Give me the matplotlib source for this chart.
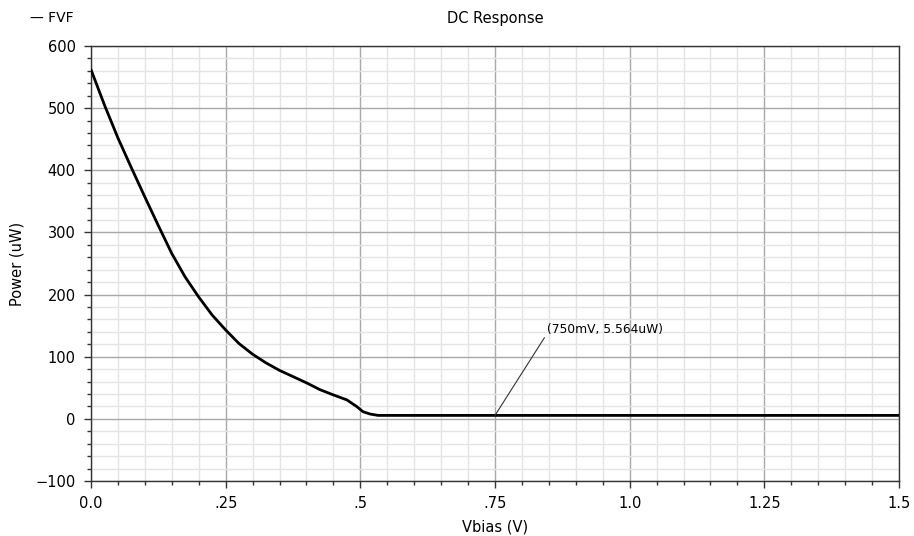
import matplotlib
matplotlib.use("Agg")
import matplotlib.pyplot as plt
from matplotlib.ticker import MultipleLocator

# Data
vbias = [0.0, 0.025, 0.05, 0.075, 0.1, 0.125, 0.15, 0.175, 0.2, 0.225, 0.25,
         0.275, 0.3, 0.325, 0.35, 0.375, 0.4, 0.425, 0.45, 0.475, 0.493,
         0.505, 0.518, 0.533, 0.75, 1.5]
power = [562, 505, 452, 404, 357, 311, 266, 228, 196, 167, 143,
         121, 104, 90, 78, 68, 58, 47, 38.5, 30.5, 20,
         11.5, 7.8, 5.564, 5.564, 5.564]
xticks = [0.0, 0.25, 0.5, 0.75, 1.0, 1.25, 1.5]
xticklabels = ["0.0", ".25", ".5", ".75", "1.0", "1.25", "1.5"]
yticks = [-100, 0, 100, 200, 300, 400, 500, 600]
marker_x = 0.75
marker_y = 5.564
marker_label = "(750mV, 5.564uW)"

plt.rcParams['font.family'] = ['DejaVu Sans']
fig = plt.figure(figsize=(9.14, 5.36), dpi=100)
ax = fig.add_axes([91/914, 1-481/536, (899-91)/914, (481-46)/536])

ax.plot(vbias, power, color="black", lw=2, zorder=3,
        solid_joinstyle="round", solid_capstyle="round")

ax.set_xlim(0, 1.5)
ax.set_ylim(-100, 600)
ax.set_xticks(xticks)
ax.set_xticklabels(xticklabels)
ax.set_yticks(yticks)
ax.xaxis.set_minor_locator(MultipleLocator(0.05))
ax.yaxis.set_minor_locator(MultipleLocator(20))

ax.grid(which="major", color="#a8a8a8", lw=1.0, zorder=1)
ax.grid(which="minor", color="#e4e4e4", lw=1.0, zorder=0)
ax.set_axisbelow(True)

ax.tick_params(which="major", direction="out", length=5, width=1, color="#333333",
               labelsize=10.5, pad=6)
ax.tick_params(which="minor", direction="out", length=3, width=1, color="#333333")
for s in ax.spines.values():
    s.set_color("#333333")
    s.set_linewidth(1.0)

ax.set_xlabel("Vbias (V)", fontsize=10.5, labelpad=6)
ax.set_ylabel("Power (uW)", fontsize=10.5, labelpad=8)

fig.text(495/914, 1-18/536, "DC Response", ha="center", va="center", fontsize=10.5)
fig.text(30/914, 1-18/536, "\u2014 FVF", ha="left", va="center", fontsize=10)

ax.annotate(marker_label, xy=(marker_x, marker_y), xytext=(0.847, 143),
            fontsize=8.8, ha="left", va="center",
            arrowprops=dict(arrowstyle="-", color="#333333", lw=0.8,
                            shrinkA=0, shrinkB=0,
                            relpos=(0, 0.25)))

fig.savefig("out.png", dpi=100)
